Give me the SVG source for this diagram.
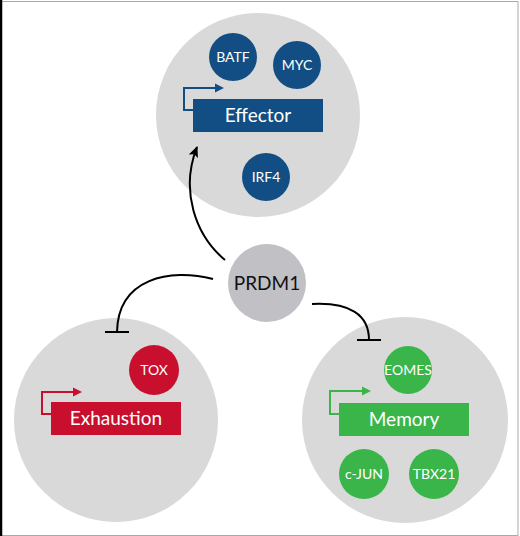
<svg xmlns="http://www.w3.org/2000/svg" width="520" height="536" viewBox="0 0 520 536">
<defs>
<style>
.bg{fill:#d9d9d9}
.blue{fill:#124e83}
.red{fill:#c8102e}
.green{fill:#3ab54a}
.lbl{font-family:Lato,"Open Sans","Liberation Sans",sans-serif;fill:#fff;text-anchor:middle}
.small{font-size:14px}
.big{font-size:19px}
.conn{fill:none;stroke:#000;stroke-width:2}
</style>
<marker id="ah" viewBox="0 0 10 10" refX="9" refY="5" markerWidth="11" markerHeight="11" orient="auto" markerUnits="userSpaceOnUse">
<path d="M0,0.5 L10,5 L0,9.5 L2,5 Z" fill="#000"/>
</marker>
</defs>
<rect x="0" y="0" width="520" height="536" fill="#fff"/>
<rect x="1" y="1.5" width="517" height="534" fill="none" stroke="#aaa" stroke-width="1"/>
<line x1="1" y1="0" x2="1" y2="536" stroke="#000" stroke-width="2.5"/>

<g id="effector-cell">
<circle class="bg" cx="258" cy="115" r="102"/>
<g id="batf"><circle class="blue" cx="233" cy="57" r="24"/><text class="lbl small" x="233" y="62">BATF</text></g>
<g id="myc"><circle class="blue" cx="297" cy="65" r="24"/><text class="lbl small" x="297" y="70">MYC</text></g>
<g id="effector"><rect class="blue" x="193" y="99" width="130" height="33"/><text class="lbl big" x="258" y="122">Effector</text>
<path d="M193,110 H184 V88 H216" fill="none" stroke="#124e83" stroke-width="2"/><path d="M215,83.5 L224,88 L215,92.5 Z" class="blue"/></g>
<g id="irf4"><circle class="blue" cx="266" cy="177" r="24"/><text class="lbl small" x="266" y="182">IRF4</text></g>
</g>

<g id="exhaustion-cell">
<circle class="bg" cx="116" cy="420" r="102"/>
<g id="tox"><circle class="red" cx="154" cy="370" r="25"/><text class="lbl small" x="154" y="375">TOX</text></g>
<g id="exhaustion"><rect class="red" x="51" y="402" width="130" height="33"/><text class="lbl big" x="116" y="425">Exhaustion</text>
<path d="M51,414 H42 V392 H74" fill="none" stroke="#c8102e" stroke-width="2"/><path d="M73,387.5 L82,392 L73,396.5 Z" class="red"/></g>
</g>

<g id="memory-cell">
<circle class="bg" cx="405" cy="420" r="103"/>
<g id="eomes"><circle class="green" cx="408" cy="370" r="24"/><text class="lbl small" x="408" y="375">EOMES</text></g>
<g id="memory"><rect class="green" x="339" y="403" width="130" height="33"/><text class="lbl big" x="404" y="426">Memory</text>
<path d="M339,414 H330 V391 H363" fill="none" stroke="#3ab54a" stroke-width="2"/><path d="M362,386.5 L371,391 L362,395.5 Z" class="green"/></g>
<g id="cjun"><circle class="green" cx="364" cy="474" r="25"/><text class="lbl small" x="364" y="479">c-JUN</text></g>
<g id="tbx21"><circle class="green" cx="434" cy="474" r="25"/><text class="lbl small" x="434" y="479">TBX21</text></g>
</g>

<g id="prdm1">
<circle cx="267" cy="283" r="39" fill="#c1c0c5"/>
<text x="267" y="290" font-family="Lato,'Open Sans','Liberation Sans',sans-serif" font-size="19" fill="#111" text-anchor="middle">PRDM1</text>
</g>

<g id="connectors">
<path class="conn" d="M225,260 C195,235 180,190 197,147" marker-end="url(#ah)"/>
<path class="conn" d="M213,279 C170,268 118,278 117,332"/>
<line x1="105" y1="332" x2="129" y2="332" stroke="#000" stroke-width="2"/>
<path class="conn" d="M312,304 C350,302 369,315 369,340"/>
<line x1="357" y1="340" x2="381" y2="340" stroke="#000" stroke-width="2"/>
</g>
</svg>
